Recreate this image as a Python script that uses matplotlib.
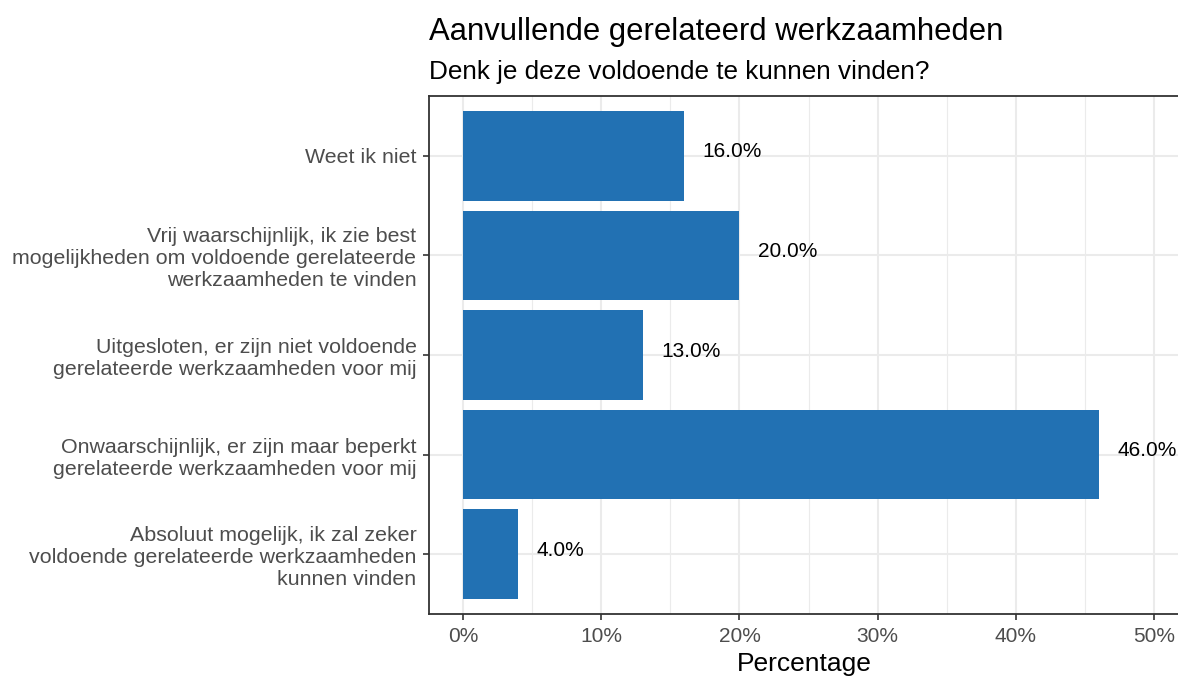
import numpy as np
import matplotlib as mpl
import matplotlib.pyplot as plt
from matplotlib.ticker import FuncFormatter, MultipleLocator

mpl.rcParams['font.family'] = ['Liberation Sans', 'DejaVu Sans']

categories = [
    "Absoluut mogelijk, ik zal zeker\nvoldoende gerelateerde werkzaamheden\nkunnen vinden",
    "Onwaarschijnlijk, er zijn maar beperkt\ngerelateerde werkzaamheden voor mij",
    "Uitgesloten, er zijn niet voldoende\ngerelateerde werkzaamheden voor mij",
    "Vrij waarschijnlijk, ik zie best\nmogelijkheden om voldoende gerelateerde\nwerkzaamheden te vinden",
    "Weet ik niet",
]
percentages = [4.0, 46.0, 13.0, 20.0, 16.0]

W, H = 1178, 678
fig = plt.figure(figsize=(W / 100, H / 100), dpi=100)

# panel in pixel coords
left, right, top, bottom = 429, 1179, 96, 614
ax = fig.add_axes([left / W, 1 - bottom / H, (right - left) / W, (bottom - top) / H])

pos = np.arange(1, len(categories) + 1)
ax.barh(pos, percentages, height=0.9, color='#2271b3', zorder=2)
for p, v in zip(pos, percentages):
    ax.text(v + 1.35, p + 0.04, f"{v:.1f}%", ha='left', va='center',
            fontsize=15, color='black', zorder=3)

ax.set_xlim(-2.46, 51.8)
ax.set_ylim(0.4, 5.6)
ax.xaxis.set_major_locator(MultipleLocator(10))
ax.xaxis.set_minor_locator(MultipleLocator(5))
ax.xaxis.set_major_formatter(FuncFormatter(lambda x, _: f"{x:.0f}%"))
ax.set_yticks(pos)
ax.set_yticklabels(categories)

ax.grid(True, which='major', color='#ebebeb', linewidth=1.5, zorder=0)
ax.grid(True, which='minor', axis='x', color='#ebebeb', linewidth=0.8, zorder=0)
ax.set_axisbelow(True)

for s in ax.spines.values():
    s.set_color('#333333')
    s.set_linewidth(1.3)

ax.tick_params(which='major', length=4, width=1.2, color='#333333',
               labelsize=15, labelcolor='#4d4d4d', pad=5)
ax.tick_params(axis='y', labelsize=15.4)
ax.tick_params(which='minor', length=0)
for lab in ax.get_yticklabels():
    lab.set_linespacing(1.2)

ax.set_xlabel("Percentage", fontsize=19, color='black', labelpad=5)

fig.text(left / W, 1 - 40 / H, "Aanvullende gerelateerd werkzaamheden",
         fontsize=22.3, ha='left', va='baseline')
fig.text(left / W, 1 - 79 / H, "Denk je deze voldoende te kunnen vinden?",
         fontsize=18.8, ha='left', va='baseline')

fig.savefig("out.png", dpi=100)
